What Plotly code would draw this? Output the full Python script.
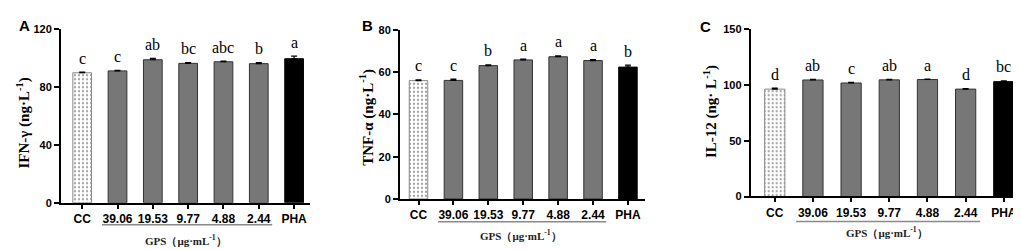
import plotly.graph_objects as go

categories = ["CC", "39.06", "19.53", "9.77", "4.88", "2.44", "PHA"]

ifn_values = [89.9, 91.2, 98.9, 96.4, 97.5, 96.2, 99.6]
ifn_errors = [0.5, 0.3, 1.0, 0.6, 0.4, 0.7, 1.8]
ifn_letters = ["c", "c", "ab", "bc", "abc", "b", "a"]

tnf_values = [56.0, 56.1, 63.1, 65.8, 67.3, 65.5, 62.4]
tnf_errors = [0.4, 0.6, 0.4, 0.4, 0.4, 0.4, 0.9]
tnf_letters = ["c", "c", "b", "a", "a", "a", "b"]

il12_values = [96.3, 104.5, 101.8, 104.6, 104.9, 96.3, 103.0]
il12_errors = [0.8, 0.5, 0.6, 0.4, 0.4, 0.5, 0.7]
il12_letters = ["d", "ab", "c", "ab", "a", "d", "bc"]

W, H = 1021, 250

def px_x(p):
    return p / W

def px_y(p):
    return 1 - p / H

panels = [
    dict(key="", values=ifn_values, errors=ifn_errors, letters=ifn_letters,
         xdom=[53, 302], ydom=[198.3, 16], xrange=[-0.6, 6.45], yrange=[0, 120], dtick=40,
         title="IFN-γ (ng·L<sup>-1</sup>)", title_x=15, title_y=115,
         label="A", label_x=16, label_y=12, line_y=221.5, gps_y=238),
    dict(key="2", values=tnf_values, errors=tnf_errors, letters=tnf_letters,
         xdom=[392, 636.7], ydom=[194.3, 16.7], xrange=[-0.53, 6.48], yrange=[0, 80], dtick=20,
         title="TNF-α (ng·L<sup>-1</sup>)", title_x=359, title_y=109,
         label="B", label_x=359, label_y=12, line_y=218.3, gps_y=233),
    dict(key="3", values=il12_values, errors=il12_errors, letters=il12_letters,
         xdom=[742.7, 1013], ydom=[191.7, 16], xrange=[-0.63, 6.45], yrange=[0, 150], dtick=50,
         title="IL-12 (ng· L<sup>-1</sup>)", title_x=702, title_y=103,
         label="C", label_x=697, label_y=13, line_y=218, gps_y=230),
]

fill_colors = ["white", "#777777", "#777777", "#777777", "#777777", "#777777", "black"]
line_colors = ["#888888", "#333333", "#333333", "#333333", "#333333", "#333333", "black"]
pattern_shapes = [".", "", "", "", "", "", ""]

fig = go.Figure()
annotations = []
shapes = []

for p in panels:
    xa = "x" + p["key"]
    ya = "y" + p["key"]
    fig.add_trace(go.Bar(
        x=categories, y=p["values"], xaxis=xa, yaxis=ya,
        marker=dict(color=fill_colors, line=dict(color=line_colors, width=1),
                    pattern=dict(shape=pattern_shapes, fgcolor="#666666", bgcolor="white",
                                 size=4, solidity=0.25)),
        error_y=dict(type="data", array=p["errors"], arrayminus=[0] * 7,
                     color="black", thickness=1.2, width=3),
        width=0.53, showlegend=False, hoverinfo="skip",
    ))
    for i, (v, e, lt) in enumerate(zip(p["values"], p["errors"], p["letters"])):
        annotations.append(dict(x=i, y=v + e, xref=xa, yref=ya, text=lt, showarrow=False,
                                yanchor="middle", yshift=14,
                                font=dict(family="Liberation Serif", size=16, color="black")))
    xk = "xaxis" + p["key"]
    yk = "yaxis" + p["key"]
    fig.layout[xk] = dict(domain=[px_x(p["xdom"][0]), px_x(p["xdom"][1])], anchor=ya,
                          range=p["xrange"], type="category",
                          showline=True, linecolor="black", linewidth=2,
                          ticks="outside", ticklen=4, tickwidth=1.5, tickcolor="black",
                          tickfont=dict(family="Liberation Sans", size=12, color="black", weight="bold"),
                          showgrid=False, zeroline=False, fixedrange=True)
    fig.layout[yk] = dict(domain=[px_y(p["ydom"][0]), px_y(p["ydom"][1])], anchor=xa,
                          range=p["yrange"], dtick=p["dtick"],
                          showline=True, linecolor="black", linewidth=2,
                          ticks="outside", ticklen=5, tickwidth=1.5, tickcolor="black",
                          tickfont=dict(family="Liberation Sans", size=11, color="black", weight="bold"),
                          showgrid=False, zeroline=False, fixedrange=True)
    annotations.append(dict(x=px_x(p["title_x"]), y=px_y(p["title_y"]), xref="paper", yref="paper",
                            text=p["title"], textangle=-90, showarrow=False,
                            xanchor="center", yanchor="middle",
                            font=dict(family="Liberation Serif", size=15, color="black", weight="bold")))
    annotations.append(dict(x=px_x(p["label_x"]), y=px_y(p["label_y"]), xref="paper", yref="paper",
                            text=p["label"], showarrow=False, xanchor="center", yanchor="middle",
                            font=dict(family="Liberation Sans", size=15, color="black", weight="bold")))
    shapes.append(dict(type="line", xref=xa, yref="paper", x0=0.56, x1=5.38,
                       y0=px_y(p["line_y"]), y1=px_y(p["line_y"]),
                       line=dict(color="#8a8a8a", width=1.5)))
    annotations.append(dict(x=2.95, y=px_y(p["gps_y"]), xref=xa, yref="paper",
                            text="GPS（μg·mL<sup>-1</sup>）", showarrow=False,
                            xanchor="center", yanchor="middle",
                            font=dict(family="Liberation Serif", size=11, color="#222222", weight="bold")))

fig.update_layout(width=W, height=H, margin=dict(l=0, r=0, t=0, b=0),
                  paper_bgcolor="white", plot_bgcolor="white",
                  annotations=annotations, shapes=shapes, bargap=0.47)

fig.write_html("out.html")
